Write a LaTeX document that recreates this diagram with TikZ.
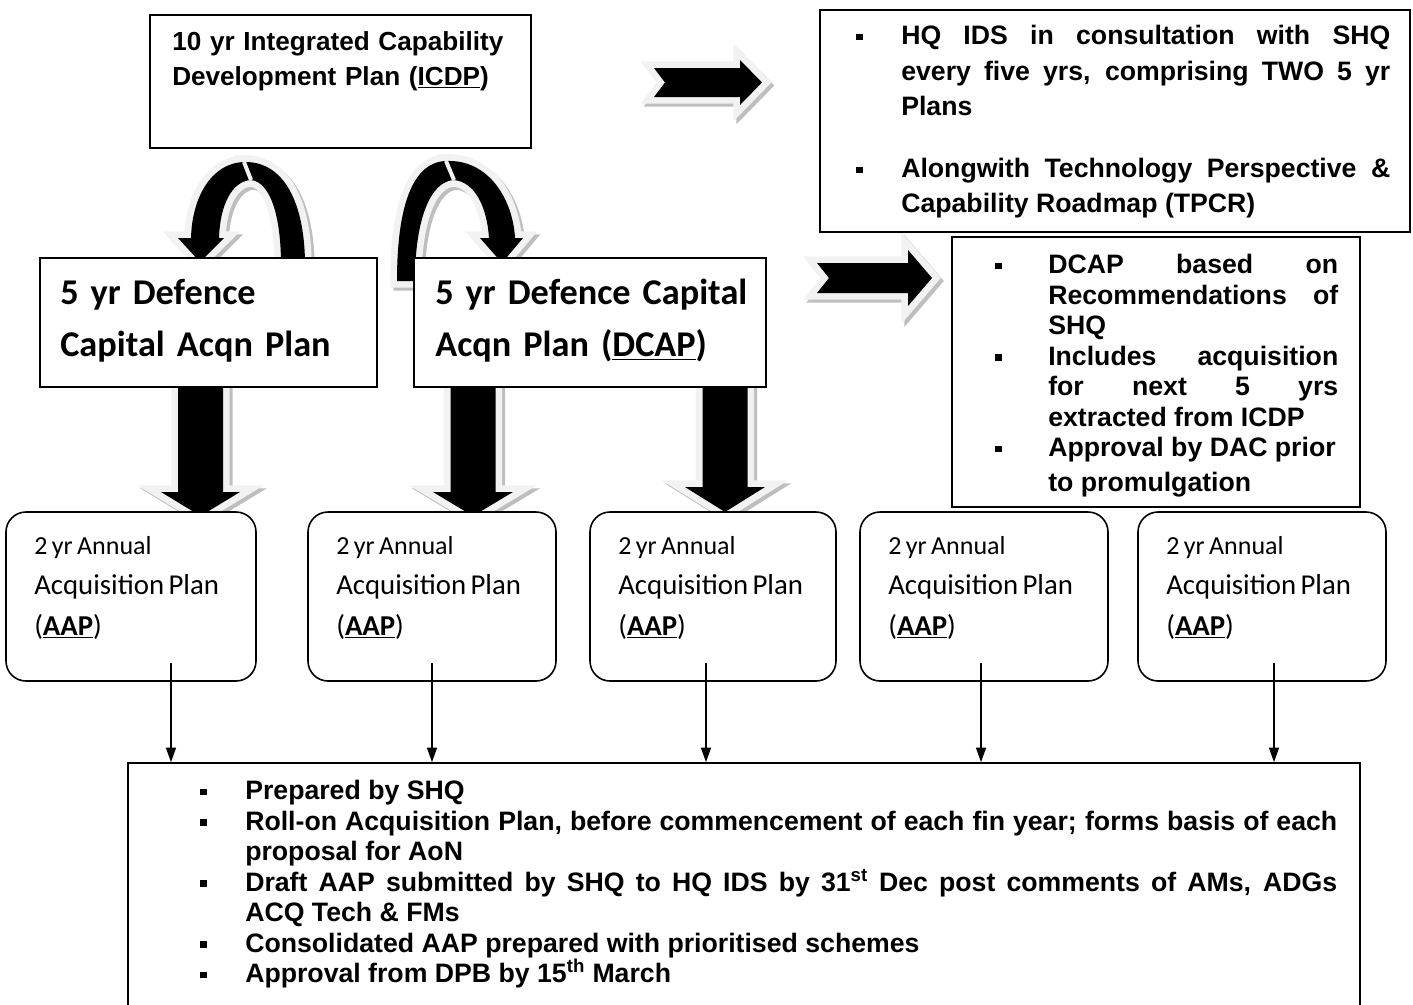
\documentclass[tikz,border=0pt]{standalone}
\usepackage{fontspec}
\setmainfont{Liberation Sans}
\newfontfamily\calibri{Carlito}
\usetikzlibrary{arrows.meta,fit}
\tikzset{>={Triangle[width=7.5pt,length=11pt]}}
\definecolor{Rim}{RGB}{242,242,242}
\definecolor{RimShadow}{RGB}{190,190,190}
\tikzset{
	box/.style={draw,line width=1.2pt,fill=white,inner sep=0pt},
	aapbox/.style={box,rounded corners=15pt},
	rim/.style={draw=Rim,fill=Rim,line width=10pt,line join=miter,miter limit=5},
	rimshadow/.style={rim,draw=RimShadow,fill=RimShadow,shift={(3,3)}},
	textblock/.style={anchor=north west,inner sep=0pt,align=left},
	bulletblock/.style={anchor=north west,inner sep=0pt,align=justify,font=\bfseries\fontsize{20}{22.9}\selectfont},
	aaptext/.style={textblock,text width=165pt,font=\calibri},
	dcaptext/.style={textblock,text width=250pt,font=\calibri\bfseries\fontsize{27.2}{39}\selectfont}
}
\hyphenpenalty=10000
\exhyphenpenalty=10000
\tolerance=10000
\newcommand{\sqbullet}{\rule[0.17em]{0.24em}{0.24em}}
\newcommand{\bitem}[1][33.75pt]{\noindent\hangindent=#1\hangafter=1\makebox[#1][l]{\sqbullet}\ignorespaces}
\newcommand{\shadedarrow}[1]{%
	\filldraw[rimshadow] #1;
	\filldraw[rim] #1;
	\fill[black] #1;}
\newcommand{\shadedbend}[2]{%
	\filldraw[rimshadow] #1; \filldraw[rimshadow] #2;
	\filldraw[rim] #1; \filldraw[rim] #2;
	\fill[black] #1; \fill[black] #2;}

\begin{document}
\begin{tikzpicture}[x=0.75pt,y=-0.75pt]
		\useasboundingbox (0,0) rectangle (1413,1004);

		% curved arrows between the plans
		\shadedbend{(244,162) .. controls (285,161) and (305,205) .. (305,265) -- (281,265) .. controls (281,215) and (270,182) .. (251,180) -- cycle}
			{(244,162) .. controls (211,163) and (192,198) .. (191,238) -- (178,238) -- (200,262) -- (224,238) -- (219,238) .. controls (220,205) and (232,181) .. (251,180) -- cycle}
		\draw[Rim,line width=3pt] (244,162) -- (251,180);
		\shadedbend{(446,161) .. controls (413,162) and (397,205) .. (397,281) -- (415,281) .. controls (415,218) and (431,181) .. (454,180) -- cycle}
			{(446,161) .. controls (489,159) and (513,200) .. (515,238) -- (523,238) -- (502,263) -- (480,238) -- (489,238) .. controls (487,207) and (475,182) .. (454,180) -- cycle}
		\draw[Rim,line width=3pt] (446,161) -- (454,180);

		% right arrows
		\shadedarrow{(654,68) -- (740,68) -- (740,60) -- (762,82.5) -- (740,105) -- (740,97) -- (654,97) -- (665,82.5) -- cycle}
		\shadedarrow{(817,263) -- (908,263) -- (908,250) -- (932,278) -- (908,306) -- (908,293) -- (817,293) -- (829,278) -- cycle}

		% down arrows
		\shadedarrow{(178,384) -- (223,384) -- (223,492) -- (240,492) -- (200.5,516) -- (161,492) -- (178,492) -- cycle}
		\shadedarrow{(450.5,384) -- (495.5,384) -- (495.5,492) -- (513,492) -- (473,516) -- (433,492) -- (450.5,492) -- cycle}
		\shadedarrow{(702.5,384) -- (747.5,384) -- (747.5,487) -- (765,487) -- (725,512) -- (685,487) -- (702.5,487) -- cycle}

		% boxes
		\node[box,fit={(150,15) (531,148)}] (icdp) {};
		\node[box,fit={(820,10) (1410,232)}] (ids) {};
		\node[box,fit={(952,237) (1360,507)}] (dcapinfo) {};
		\node[box,fit={(40,258) (377,387)}] (dcap1) {};
		\node[box,fit={(414,258) (766,387)}] (dcap2) {};
		\node[box,fit={(128,763) (1360,1012)}] (plan) {};

		% texts
		\node[textblock,text width=300pt,font=\bfseries\fontsize{19.6}{26.25}\selectfont] (icdp-t) at (172,31) {10 yr Integrated Capability\\Development Plan (\underline{ICDP})};
		\node[bulletblock,text width=400.5pt,font=\bfseries\fontsize{20}{26.6}\selectfont] (ids-t) at (856,25) {\bitem HQ IDS in consultation with SHQ\linebreak every five yrs, comprising TWO 5 yr\linebreak Plans\par\vspace{19.9pt}\bitem Alongwith Technology Perspective \&\linebreak Capability Roadmap (TPCR)\par};
		\node[bulletblock,text width=257.25pt] (dcapinfo-t) at (995,254) {\bitem[39.75pt] DCAP based on\linebreak Recommendations of\linebreak SHQ\par\bitem[39.75pt] Includes acquisition\linebreak for next 5 yrs\linebreak extracted from ICDP\par\bitem[39.75pt] Approval by DAC prior\par\vspace{3.5pt}\noindent\hspace*{39.75pt}to promulgation\par};
		\node[dcaptext] (dcap1-t) at (60,279) {5 yr Defence\\Capital Acqn Plan};
		\node[dcaptext] (dcap2-t) at (435,279) {5 yr Defence Capital\\Acqn Plan (\underline{DCAP})};
		\node[bulletblock,text width=852.75pt] (plan-t) at (200,780) {\bitem Prepared by SHQ\par\bitem Roll-on Acquisition Plan, before commencement of each fin year; forms basis of each\linebreak proposal for AoN\par\bitem Draft AAP submitted by SHQ to HQ IDS by 31\textsuperscript{st} Dec post comments of AMs, ADGs\linebreak ACQ Tech \& FMs\par\bitem Consolidated AAP prepared with prioritised schemes\par\bitem Approval from DPB by 15\textsuperscript{th} March\par};

		% annual plans
		\foreach \i/\xa/\xb/\xo in {1/6/256/171, 2/308/556/432, 3/590/836/706, 4/860/1108/981, 5/1138/1386/1274} {
			\node[aapbox,fit={(\xa,512) (\xb,681)}] (aap\i) {};
			\node[aaptext] (aap\i-t) at (\xa+28,536) {\fontsize{19.5}{30}\selectfont 2 yr Annual\par\fontsize{21.6}{30.5}\selectfont Acquisition Plan\par(\textbf{\underline{AAP}})\par};
			\coordinate (out\i) at (\xo,663);
			\draw[->,line width=1.1pt] (out\i) -- (out\i |- plan.north);
		}
\end{tikzpicture}
\end{document}
